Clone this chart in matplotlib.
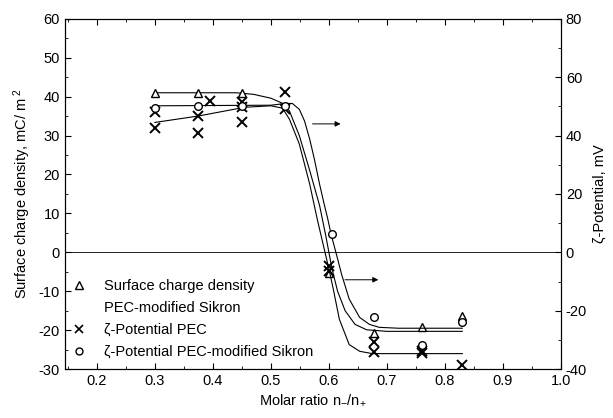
import numpy as np
import matplotlib
matplotlib.use("Agg")
from matplotlib import pyplot as plt
from matplotlib.lines import Line2D
from matplotlib.ticker import MultipleLocator

plt.rcParams['font.family'] = ['Liberation Sans', 'DejaVu Sans']
plt.rcParams['mathtext.fontset'] = 'custom'
plt.rcParams['mathtext.rm'] = 'Liberation Sans'
plt.rcParams['mathtext.it'] = 'Liberation Sans'
plt.rcParams['axes.unicode_minus'] = False

# surface charge density (left axis, mC/m2)
x_tri = [0.30, 0.375, 0.45, 0.60, 0.678, 0.76, 0.83]
y_tri = [41.0, 41.0, 41.0, -5.4, -20.6, -19.3, -16.4]

# zeta potential PEC (right axis, mV)
x_cross = [0.30, 0.30, 0.375, 0.375, 0.395, 0.45, 0.45, 0.45, 0.525, 0.525,
           0.60, 0.60, 0.678, 0.678, 0.76, 0.76, 0.83]
y_cross = [48.0, 42.7, 46.6, 41.0, 51.8, 51.4, 49.7, 44.6, 54.8, 49.0,
           -4.8, -6.5, -30.8, -34.3, -33.9, -34.6, -38.7]

# zeta potential PEC-modified Sikron (right axis, mV)
x_circ = [0.30, 0.375, 0.45, 0.525, 0.605, 0.678, 0.76, 0.83]
y_circ = [49.6, 50.0, 50.2, 50.2, 6.2, -22.0, -31.6, -24.0]

# fitted curves
fit_tri_x = [0.30, 0.44, 0.47, 0.50, 0.52, 0.532, 0.549, 0.567, 0.584, 0.595,
             0.605, 0.615, 0.628, 0.645, 0.665, 0.70, 0.83]
fit_tri_y = [41.0, 41.0, 40.6, 39.6, 38.3, 36.3, 30.0, 21.0, 12.0, 4.0,
             -4.0, -10.0, -15.0, -18.5, -19.9, -20.3, -20.3]

fit_cross_x = [0.30, 0.375, 0.455, 0.50, 0.52, 0.532, 0.549, 0.567, 0.580, 0.592,
               0.601, 0.608, 0.618, 0.635, 0.653, 0.675, 0.83]
fit_cross_y = [44.5, 46.7, 49.7, 50.2, 49.4, 45.6, 37.1, 23.3, 11.3, 1.1,
               -6.5, -13.0, -22.9, -31.6, -33.9, -34.7, -34.7]

fit_circ_x = [0.30, 0.50, 0.525, 0.537, 0.549, 0.558, 0.567, 0.575, 0.584, 0.592,
              0.598, 0.604, 0.613, 0.622, 0.635, 0.653, 0.670, 0.687, 0.72, 0.83]
fit_circ_y = [50.2, 50.4, 51.0, 51.0, 49.0, 45.0, 38.7, 31.9, 23.3, 16.4,
              11.5, 6.0, -0.7, -7.6, -16.0, -22.3, -24.7, -25.7, -26.0, -26.0]

fig = plt.figure(figsize=(6.13, 4.18), dpi=100)
ax = fig.add_axes([0.106, 0.117, 0.809, 0.838])
ax2 = ax.twinx()

ax.plot(fit_tri_x, fit_tri_y, color='k', lw=0.8)
ax2.plot(fit_cross_x, fit_cross_y, color='k', lw=0.8)
ax2.plot(fit_circ_x, fit_circ_y, color='k', lw=0.8)

ax.plot(x_tri, y_tri, ls='none', marker='^', ms=6, mfc='white', mec='k', mew=1.0)
ax2.plot(x_cross, y_cross, ls='none', marker='x', ms=6.5, color='k', mew=1.4)
ax2.plot(x_circ, y_circ, ls='none', marker='o', ms=5.5, mfc='white', mec='k', mew=1.0)

ax.axhline(0, color='k', lw=0.6)

ax2.annotate('', xy=(0.625, 44), xytext=(0.567, 44),
             arrowprops=dict(arrowstyle='-|>', lw=0.7, color='k', mutation_scale=8))
ax2.annotate('', xy=(0.69, -9.4), xytext=(0.623, -9.4),
             arrowprops=dict(arrowstyle='-|>', lw=0.7, color='k', mutation_scale=8))

ax.set_xlim(0.145, 1.0)
ax.set_ylim(-30, 60)
ax2.set_ylim(-40, 80)

ax.xaxis.set_major_locator(MultipleLocator(0.1))
ax.xaxis.set_minor_locator(MultipleLocator(0.05))
ax.yaxis.set_major_locator(MultipleLocator(10))
ax.yaxis.set_minor_locator(MultipleLocator(5))
ax2.yaxis.set_major_locator(MultipleLocator(20))
ax2.yaxis.set_minor_locator(MultipleLocator(10))
ax.xaxis.set_major_formatter(plt.FuncFormatter(lambda v, p: '%.1f' % v))

ax.tick_params(which='both', direction='in', top=True, labelsize=10.5)
ax.tick_params(which='major', length=4)
ax.tick_params(which='minor', length=2)
ax2.tick_params(which='both', direction='in', labelsize=10.5)
ax2.tick_params(which='major', length=4)
ax2.tick_params(which='minor', length=2)

ax.set_xlabel(r'Molar ratio n$_{-}$/n$_{+}$', fontsize=10.5, labelpad=3)
ax.set_ylabel(r'Surface charge density, mC/ m$^{\ 2}$', fontsize=10.5, labelpad=4)
ax2.set_ylabel('ζ-Potential, mV', fontsize=10.5, labelpad=4)

handles = [
    Line2D([], [], ls='none', marker='^', ms=6, mfc='white', mec='k', mew=1.0),
    Line2D([], [], ls='none'),
    Line2D([], [], ls='none', marker='x', ms=6, color='k', mew=1.2),
    Line2D([], [], ls='none', marker='o', ms=5, mfc='white', mec='k', mew=1.0),
]
labels = ['Surface charge density', 'PEC-modified Sikron',
          'ζ-Potential PEC', 'ζ-Potential PEC-modified Sikron']
ax.legend(handles, labels, loc='lower left', bbox_to_anchor=(-0.01, 0.0),
          frameon=False, fontsize=10.5, handlelength=1.2, handletextpad=1.1,
          labelspacing=0.55, borderaxespad=0.3)

fig.savefig('out.png', dpi=100)
